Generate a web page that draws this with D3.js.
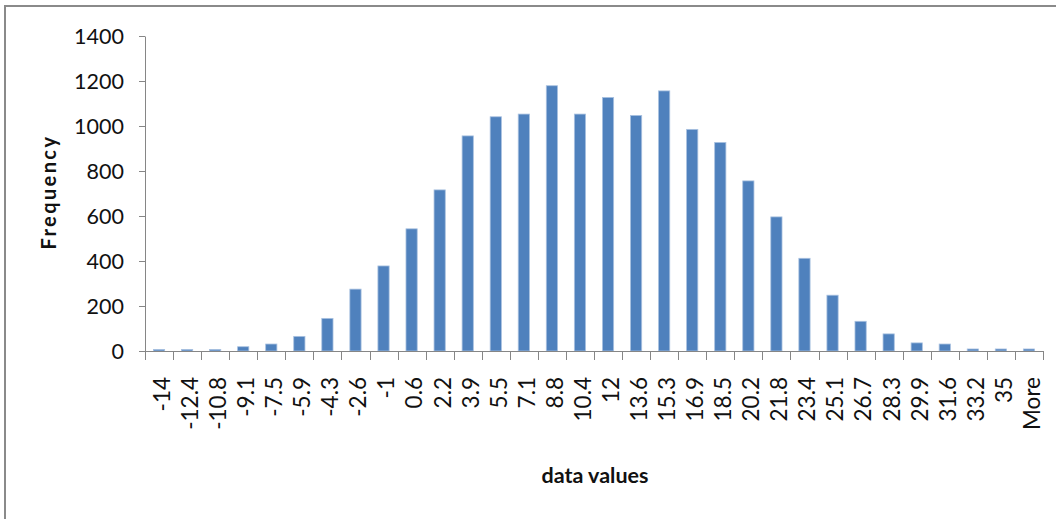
<!DOCTYPE html>
<html>
<head>
<meta charset="utf-8">
<script src="https://cdn.jsdelivr.net/npm/d3@7"></script>
<style>
  html, body { margin: 0; padding: 0; background: #fff; }
  svg { display: block; }
  text { font-family: Lato, "Open Sans", sans-serif; fill: #111; }
</style>
</head>
<body>
<svg id="chart" width="1056" height="519"></svg>
<script>
// Histogram bins (upper bin limits) and their counts
const bins = ["-14", "-12.4", "-10.8", "-9.1", "-7.5", "-5.9", "-4.3", "-2.6", "-1", "0.6",
  "2.2", "3.9", "5.5", "7.1", "8.8", "10.4", "12", "13.6", "15.3", "16.9",
  "18.5", "20.2", "21.8", "23.4", "25.1", "26.7", "28.3", "29.9", "31.6", "33.2",
  "35", "More"];
const frequency = [7, 7, 7, 19, 31, 65, 145, 275, 378, 543,
  716, 956, 1041, 1053, 1179, 1053, 1127, 1047, 1156, 985,
  927, 756, 596, 412, 248, 132, 76, 36, 31, 9,
  9, 9];
const yTicks = [0, 200, 400, 600, 800, 1000, 1200, 1400];

const svg = d3.select("#chart");
const plotLeft = 145, plotRight = 1043, plotTop = 36, plotBottom = 351;
const axisColor = "#868686";

// Chart frame
svg.append("rect")
  .attr("x", 5).attr("y", 6)
  .attr("width", 1100).attr("height", 600)
  .attr("fill", "none").attr("stroke", "#8a8a8a").attr("stroke-width", 2);

const x = d3.scaleBand().domain(bins).range([plotLeft, plotRight]).padding(0);
const xBar = d3.scaleBand().domain(bins).range([plotLeft, plotRight])
  .paddingInner(0.6).paddingOuter(0.3);
const y = d3.scaleLinear().domain([0, 1400]).range([plotBottom, plotTop]);

// Bars
svg.append("g").selectAll("rect")
  .data(bins.map((b, i) => ({ bin: b, value: frequency[i] })))
  .join("rect")
  .attr("x", d => xBar(d.bin))
  .attr("width", xBar.bandwidth())
  .attr("y", d => y(d.value))
  .attr("height", d => y(0) - y(d.value))
  .attr("fill", "#4F81BD")
  .attr("stroke", "#a9c1e0")
  .attr("stroke-width", 0.8);

// Y axis
const yAxis = svg.append("g")
  .attr("transform", `translate(${plotLeft},0)`)
  .call(d3.axisLeft(y).tickValues(yTicks).tickFormat(d3.format("d"))
    .tickSize(6).tickSizeOuter(0).tickPadding(15));
yAxis.select(".domain").attr("stroke", axisColor);
yAxis.selectAll(".tick line").attr("stroke", axisColor);
yAxis.selectAll(".tick text")
  .style("font-family", "Lato, sans-serif")
  .style("font-size", "21.5px")
  .attr("fill", "#111")
  .attr("dy", "0.36em");

// X axis line with ticks at bin boundaries
const xg = svg.append("g");
xg.append("line")
  .attr("x1", plotLeft).attr("x2", plotRight)
  .attr("y1", y(0) + 0.5).attr("y2", y(0) + 0.5)
  .attr("stroke", axisColor);
const boundaries = bins.map(b => x(b)).concat([x.range()[1]]);
xg.selectAll("line.tick")
  .data(boundaries)
  .join("line")
  .attr("class", "tick")
  .attr("x1", d => Math.round(d) + 0.5).attr("x2", d => Math.round(d) + 0.5)
  .attr("y1", y(0)).attr("y2", y(0) + 9)
  .attr("stroke", axisColor);

// Rotated bin labels
xg.selectAll("text.bin")
  .data(bins)
  .join("text")
  .attr("class", "bin")
  .attr("transform", d => `translate(${x(d) + x.bandwidth() / 2 + 3},377) rotate(-90)`)
  .attr("text-anchor", "end")
  .attr("dy", "0.35em")
  .style("font-size", "22.5px")
  .text(d => d);

// Axis titles
svg.append("text")
  .attr("x", 595).attr("y", 483)
  .attr("text-anchor", "middle")
  .style("font-size", "21.5px")
  .style("font-weight", "bold")
  .text("data values");

svg.append("text")
  .attr("transform", "translate(56,192) rotate(-90)")
  .attr("text-anchor", "middle")
  .style("font-size", "20px")
  .style("font-weight", "bold")
  .style("letter-spacing", "2.4px")
  .text("Frequency");
</script>
</body>
</html>
